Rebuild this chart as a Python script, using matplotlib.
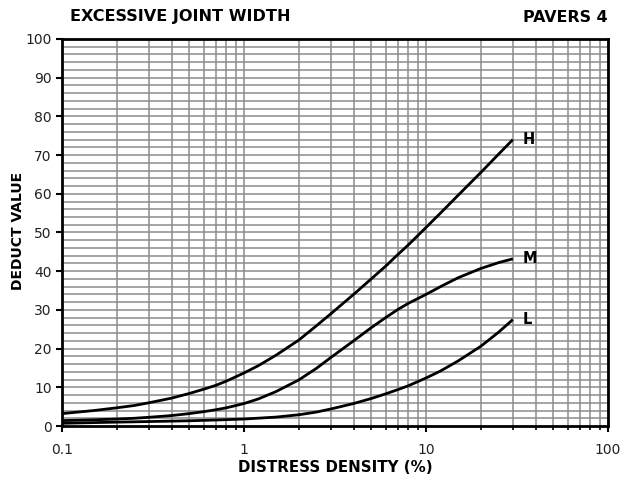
import numpy as np
import matplotlib
matplotlib.use("Agg")
import matplotlib.pyplot as plt
from matplotlib.ticker import FixedLocator, NullFormatter, FixedFormatter

# Data (distress density %, deduct value)
x_h = [0.1, 0.15, 0.2, 0.25, 0.3, 0.4, 0.5, 0.6, 0.7, 0.8, 1, 1.2, 1.5, 2, 2.5, 3, 4, 5, 6, 7, 8, 10, 12, 15, 20, 25, 30]
y_h = [3.2, 4.0, 4.7, 5.3, 6.0, 7.2, 8.4, 9.5, 10.5, 11.6, 13.7, 15.6, 18.3, 22.2, 25.9, 29.0, 34.0, 38.0, 41.3, 44.3, 46.8, 51.3, 55.0, 59.6, 65.5, 70.2, 74.0]
x_m = [0.1, 0.15, 0.2, 0.25, 0.3, 0.4, 0.5, 0.6, 0.7, 0.8, 1, 1.2, 1.5, 2, 2.5, 3, 4, 5, 6, 7, 8, 10, 12, 15, 20, 25, 30]
y_m = [1.4, 1.6, 1.8, 2.0, 2.25, 2.7, 3.2, 3.7, 4.2, 4.7, 5.8, 7.0, 8.9, 11.9, 14.9, 17.7, 22.0, 25.4, 28.0, 30.1, 31.7, 34.0, 36.0, 38.3, 40.7, 42.2, 43.2]
x_l = [0.1, 0.2, 0.3, 0.5, 0.7, 1, 1.5, 2, 2.5, 3, 4, 5, 6, 7, 8, 10, 12, 15, 20, 25, 30]
y_l = [0.7, 1.0, 1.15, 1.35, 1.55, 1.8, 2.3, 2.9, 3.6, 4.4, 5.8, 7.1, 8.3, 9.4, 10.4, 12.4, 14.2, 16.8, 20.6, 24.2, 27.5]
curve_labels = ["H", "M", "L"]
x_ticks = [0.1, 1, 10, 100]
x_tick_labels = ["0.1", "1", "10", "100"]
y_ticks = list(range(0, 101, 10))

title_left = "EXCESSIVE JOINT WIDTH"
title_right = "PAVERS 4"
xlabel = "DISTRESS DENSITY (%)"
ylabel = "DEDUCT VALUE"

plt.rcParams['font.family'] = ['DejaVu Sans']
fig = plt.figure(figsize=(6.21, 4.82), dpi=100)
ax = fig.add_axes([62/621, 56/482, 546/621, 387/482])
ax.set_xscale('log')
ax.set_xlim(0.1, 100)
ax.set_ylim(0, 100)

# grid
minor = [m * 10.0**e for e in (-1, 0, 1) for m in range(2, 10)]
for v in minor + x_ticks:
    ax.axvline(v, color='#8c8c8c', lw=1.1, zorder=1)
for v in range(2, 100, 2):
    ax.axhline(v, color='#8c8c8c', lw=1.1, zorder=1)

for xs, ys, lab in zip([x_h, x_m, x_l], [y_h, y_m, y_l], curve_labels):
    ax.plot(xs, ys, color='black', lw=2.0, zorder=3, solid_capstyle='butt',
            solid_joinstyle='round')
    ax.annotate(lab, (xs[-1], ys[-1]), xytext=(7, 0), textcoords='offset points',
                ha='left', va='center', fontsize=10.5, fontweight='bold')

ax.xaxis.set_major_locator(FixedLocator(x_ticks))
ax.xaxis.set_major_formatter(FixedFormatter(x_tick_labels))
ax.xaxis.set_minor_locator(FixedLocator(minor))
ax.xaxis.set_minor_formatter(NullFormatter())
ax.yaxis.set_major_locator(FixedLocator(y_ticks))
ax.tick_params(axis='both', which='major', direction='out', length=4, width=1.5,
               labelsize=10, colors='black', labelcolor='#222222')
ax.tick_params(axis='x', which='minor', direction='out', length=3, width=1.2)
ax.tick_params(axis='x', which='major', pad=8)
for s in ax.spines.values():
    s.set_linewidth(2)
    s.set_zorder(4)

fig.text(335/621, 1 - 467/482, xlabel, ha='center', va='center', fontsize=10.8, fontweight='bold')
fig.text(18/621, 1 - 231/482, ylabel, ha='center', va='center', fontsize=10,
         fontweight='bold', rotation=90)
fig.text(180/621, 1 - 17/482, title_left, ha='center', va='center', fontsize=11.6, fontweight='bold')
fig.text(608/621, 1 - 17/482, title_right, ha='right', va='center', fontsize=11.4, fontweight='bold')

fig.savefig('out.png', dpi=100)
